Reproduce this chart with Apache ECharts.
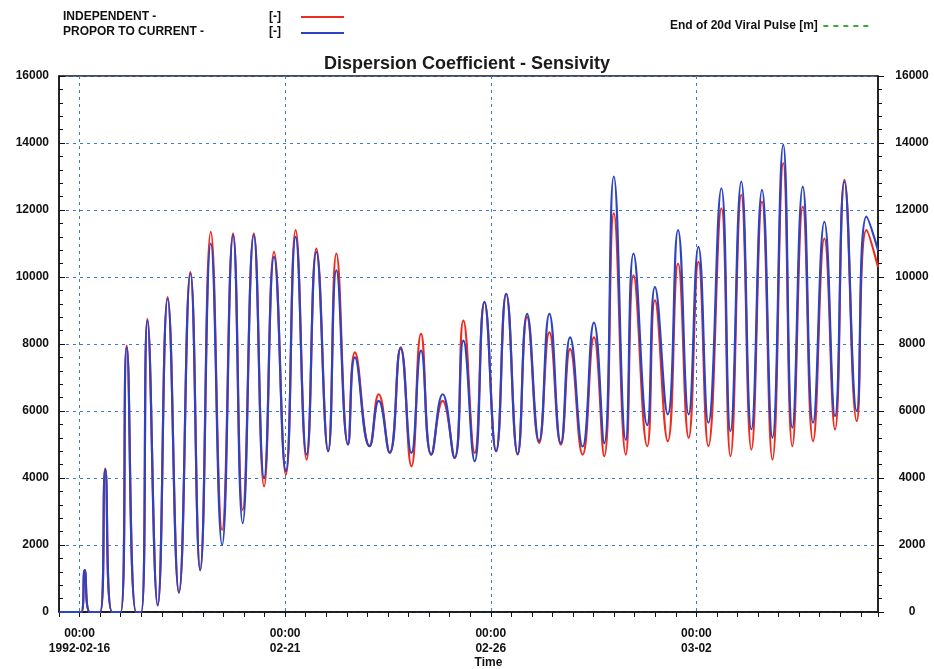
<!DOCTYPE html>
<html>
<head>
<meta charset="utf-8">
<script src="https://cdn.jsdelivr.net/npm/echarts@6/dist/echarts.min.js"></script>
<style>
  html, body { margin: 0; padding: 0; background: #fff; }
  #chart { width: 934px; height: 669px; }
</style>
</head>
<body>
<div id="chart"></div>
<script>
// hours after 1992-02-16 00:00, read at the tidal peaks and troughs
var hours = [-12, 1, 3, 6, 12, 15, 19, 24, 27.5, 33, 36, 39.6, 45.6, 51.4, 58, 64.7, 70.4, 76.6, 83.2, 89.6,
  95.2, 101.7, 107.7, 113.5, 120.4, 126.1, 132.5, 138.2, 145.1, 149.9, 156.7, 160.7, 169.3, 174.6, 181, 187.4,
  193.7, 199.3, 205.3, 211.9, 218.9, 224, 230.6, 236.3, 243.1, 249, 255.7, 261.2, 268.2, 274.2, 280.9, 286.3,
  293.6, 300.2, 306.2, 311.8, 318.8, 323.3, 331.3, 335.8, 343.3, 349.3, 355.5, 361.2, 367, 374.6, 379.9, 386.2,
  392.1, 398.3, 404.4, 410.7, 416, 422.1, 428.1, 434.7, 440.9, 446.4, 453.6, 459.3, 466];

var independent = [0, 0, 1250, 0, 0, 4280, 0, 0, 7950, 0, 0, 8750, 200, 9400, 580, 10150, 1250, 11350, 2450, 11300,
  3050, 11300, 3750, 10750, 4100, 11400, 4550, 10850, 4800, 10700, 5000, 7750, 4950, 6500, 4750, 7900,
  4350, 8300, 4700, 6300, 4600, 8700, 4750, 9250, 4800, 9500, 4700, 8800, 5050, 8350, 5000, 7850,
  4700, 8200, 4650, 11900, 4700, 10050, 4950, 9300, 5100, 10400, 5200, 10450, 4950, 12050, 4650, 12450,
  4850, 12250, 4550, 13400, 4950, 12100, 5100, 11150, 5450, 12900, 5700, 11400, 10300];

var proporToCurrent = [0, 0, 1250, 0, 0, 4250, 0, 0, 7900, 0, 0, 8700, 200, 9350, 580, 10100, 1250, 11000, 2000, 11250,
  2650, 11250, 4000, 10600, 4200, 11200, 4700, 10750, 4800, 10200, 5000, 7600, 4950, 6300, 4760, 7870,
  4750, 7800, 4700, 6500, 4600, 8100, 4500, 9260, 4800, 9500, 4720, 8900, 5100, 8900, 5040, 8200,
  4940, 8640, 5040, 13000, 5140, 10700, 5580, 9700, 5900, 11400, 5900, 10900, 5650, 12650, 5400, 12850,
  5450, 12600, 5200, 13950, 5500, 12700, 5650, 11650, 5850, 12850, 6000, 11800, 10800];

var tickHours = [0, 120, 240, 360];
var tickDates = ['1992-02-16', '02-21', '02-26', '03-02'];

var font = '"Liberation Sans", Arial, sans-serif';
var dashIcon = 'path://M0,0h5v2h-5z M10,0h5v2h-5z M20,0h5v2h-5z M30,0h5v2h-5z M40,0h5v2h-5z';

function pairs(vals) {
  return hours.map(function (h, i) { return [h, vals[i]]; });
}

function gridLine() {
  return { color: '#3f78d0', type: [3, 4], width: 1 };
}
function labelText(size) {
  return { fontFamily: font, fontSize: size || 12, fontWeight: 'bold', color: '#111' };
}
function lineLegend(name, top) {
  return {
    data: [{ name: name, icon: 'rect' }],
    left: 296,
    top: top,
    itemWidth: 43,
    itemHeight: 2,
    formatter: function () { return ''; },
    textStyle: labelText(11)
  };
}
function smallTitle(text, left, top) {
  return { text: text, left: left, top: top, padding: 0, textStyle: labelText(12) };
}

var chart = echarts.init(document.getElementById('chart'));
chart.setOption({
  backgroundColor: '#fff',
  animation: false,
  title: [
    {
      text: 'Dispersion Coefficient - Sensivity',
      left: 'center',
      top: 50,
      textStyle: { fontFamily: font, fontSize: 18, fontWeight: 'bold', color: '#1a1a1a' }
    },
    smallTitle('INDEPENDENT -', 63, 11),
    smallTitle('PROPOR TO CURRENT -', 63, 26),
    smallTitle('[-]', 269, 11),
    smallTitle('[-]', 269, 26)
  ],
  legend: [
    lineLegend('INDEPENDENT -', 11),
    lineLegend('PROPOR TO CURRENT -', 27),
    {
      data: [{ name: 'End of 20d Viral Pulse [m]', icon: dashIcon }],
      left: 665,
      top: 15,
      align: 'right',
      itemWidth: 46,
      itemHeight: 2,
      textStyle: labelText(12)
    }
  ],
  grid: {
    left: 59, right: 56, top: 76, bottom: 57,
    outerBoundsMode: 'none',
    show: true, borderColor: '#111', borderWidth: 1.3
  },
  xAxis: [
    {
      type: 'value',
      min: -12,
      max: 466,
      interval: 12,
      name: 'Time',
      nameLocation: 'middle',
      nameGap: 45,
      nameMoveOverlap: false,
      nameTextStyle: Object.assign({ padding: [0, 0, 0, 40] }, labelText()),
      axisLine: { lineStyle: { color: '#111', width: 1.5 } },
      axisTick: { length: 5, lineStyle: { color: '#111' } },
      axisLabel: Object.assign({
        margin: 14,
        lineHeight: 15,
        formatter: function (v) {
          var k = tickHours.indexOf(v);
          return k < 0 ? '' : '00:00\n' + tickDates[k];
        }
      }, labelText()),
      splitLine: { show: false }
    },
    {
      // only carries the dotted day gridlines
      type: 'value',
      min: -12,
      max: 466,
      position: 'bottom',
      axisLine: { show: false },
      axisLabel: { show: false },
      axisTick: { show: false, customValues: tickHours },
      splitLine: { show: true, lineStyle: gridLine() }
    }
  ],
  yAxis: [
    {
      type: 'value',
      min: 0,
      max: 16000,
      interval: 2000,
      axisLine: { show: true, onZero: false, lineStyle: { color: '#111', width: 1.5 } },
      axisTick: { show: true, inside: true, length: 6, lineStyle: { color: '#111' } },
      minorTick: { show: true, splitNumber: 5, length: 4, lineStyle: { color: '#111' } },
      axisLabel: Object.assign({ margin: 10, formatter: function (v) { return String(v); } }, labelText()),
      splitLine: { show: true, lineStyle: gridLine() }
    },
    {
      type: 'value',
      position: 'right',
      min: 0,
      max: 16000,
      interval: 2000,
      axisLine: { show: true, onZero: false, lineStyle: { color: '#111', width: 1.5 } },
      axisTick: { show: true, length: 6, lineStyle: { color: '#111' } },
      minorTick: { show: true, splitNumber: 5, length: 4, lineStyle: { color: '#111' } },
      axisLabel: Object.assign({ margin: 34, align: 'center', formatter: function (v) { return String(v); } }, labelText()),
      splitLine: { show: false }
    }
  ],
  series: [
    {
      name: 'End of 20d Viral Pulse [m]',
      type: 'line',
      symbol: 'none',
      data: [],
      lineStyle: { color: '#3fa83f', width: 1.5, type: [3, 4] },
      itemStyle: { color: '#3fa83f' }
    },
    {
      name: 'INDEPENDENT -',
      type: 'line',
      symbol: 'none',
      smooth: 0.5,
      z: 3,
      data: pairs(independent),
      lineStyle: { color: '#ef2b1f', width: 2.2 },
      itemStyle: { color: '#ef2b1f' }
    },
    {
      name: 'PROPOR TO CURRENT -',
      type: 'line',
      symbol: 'none',
      smooth: 0.5,
      z: 4,
      data: pairs(proporToCurrent),
      lineStyle: { color: '#2d44c2', width: 2.2 },
      itemStyle: { color: '#2d44c2' }
    }
  ]
});
</script>
</body>
</html>
